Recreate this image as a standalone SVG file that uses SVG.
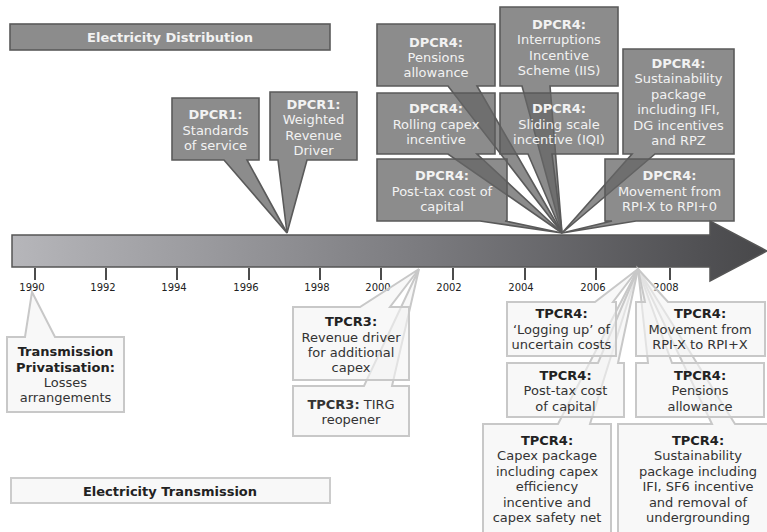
<svg xmlns="http://www.w3.org/2000/svg" width="767" height="532" viewBox="0 0 767 532">
<defs>
<linearGradient id="barg" gradientUnits="userSpaceOnUse" x1="12" y1="0" x2="767" y2="0">
<stop offset="0" stop-color="#b6b6ba"/>
<stop offset="0.55" stop-color="#7a7a7e"/>
<stop offset="0.92" stop-color="#505053"/>
<stop offset="1" stop-color="#48484a"/>
</linearGradient>
<style>
text{font-family:"DejaVu Sans","Verdana",sans-serif;font-size:13px;text-anchor:middle}
.b{font-weight:bold}
.dk path{fill:#666;fill-opacity:0.75;stroke:#5a5a5a;stroke-width:1.6;stroke-linejoin:miter}
.dk text{fill:#f2f2f2}
.lt path{fill:#f3f3f3;fill-opacity:0.6;stroke:#c8c8c8;stroke-width:2}
.lt text{fill:#333}
.lt text.b{fill:#222}
.tick{stroke:#111;stroke-width:1.5}
.yr{font-size:10px;fill:#222}
</style>
</defs>
<rect width="767" height="532" fill="#fff"/>

<g id="title-distribution">
<rect x="10" y="24" width="320" height="26" fill="#8c8c8c" stroke="#5a5a5a" stroke-width="1.6"/>
<text x="170" y="41.5" class="b" fill="#f2f2f2">Electricity Distribution</text>
</g>
<g id="title-transmission">
<rect x="11" y="478" width="319" height="25" fill="#f8f8f8" stroke="#cccccc" stroke-width="2"/>
<text x="170" y="495.5" class="b" fill="#222">Electricity Transmission</text>
</g>

<g id="timeline">
<path d="M12,235 H710 V221 L767,251 L710,281 V267 H12 Z" fill="url(#barg)" stroke="#555" stroke-width="1.5"/>
<g id="ticks">
<line class="tick" x1="35" y1="268" x2="35" y2="280"/>
<line class="tick" x1="106" y1="268" x2="106" y2="280"/>
<line class="tick" x1="177" y1="268" x2="177" y2="280"/>
<line class="tick" x1="249" y1="268" x2="249" y2="280"/>
<line class="tick" x1="320" y1="268" x2="320" y2="280"/>
<line class="tick" x1="381" y1="268" x2="381" y2="280"/>
<line class="tick" x1="453" y1="268" x2="453" y2="280"/>
<line class="tick" x1="525" y1="268" x2="525" y2="280"/>
<line class="tick" x1="596" y1="268" x2="596" y2="280"/>
<line class="tick" x1="670" y1="268" x2="670" y2="280"/>
</g>
<g id="years">
<text class="yr" x="32" y="291">1990</text>
<text class="yr" x="103" y="291">1992</text>
<text class="yr" x="174" y="291">1994</text>
<text class="yr" x="246" y="291">1996</text>
<text class="yr" x="317" y="291">1998</text>
<text class="yr" x="378" y="291">2000</text>
<text class="yr" x="449" y="291">2002</text>
<text class="yr" x="521" y="291">2004</text>
<text class="yr" x="593" y="291">2006</text>
<text class="yr" x="666" y="291">2008</text>
</g>
</g>

<g id="distribution-callouts" class="dk">
<g id="dpcr1-standards">
<path d="M172,98 H259 V160 H247 L287,233 L224,160 H172 Z"/>
<text x="215.5" y="119" class="b">DPCR1:</text>
<text x="215.5" y="134.5">Standards</text>
<text x="215.5" y="150">of service</text>
</g>
<g id="dpcr1-weighted">
<path d="M270,92 H357 V160 H307 L287,233 L278,160 H270 Z"/>
<text x="313.5" y="108.5" class="b">DPCR1:</text>
<text x="313.5" y="124">Weighted</text>
<text x="313.5" y="139.5">Revenue</text>
<text x="313.5" y="155">Driver</text>
</g>
<g id="dpcr4-pensions">
<path d="M377,24 H495 V86 H477 L562,233 L448,86 H377 Z"/>
<text x="436" y="47" class="b">DPCR4:</text>
<text x="436" y="61.5">Pensions</text>
<text x="436" y="76.5">allowance</text>
</g>
<g id="dpcr4-iis">
<path d="M500,7 H618 V86 H550 L562,233 L522,86 H500 Z"/>
<text x="559" y="28.5" class="b">DPCR4:</text>
<text x="559" y="44">Interruptions</text>
<text x="559" y="59.5">Incentive</text>
<text x="559" y="75">Scheme (IIS)</text>
</g>
<g id="dpcr4-sustainability">
<path d="M623,49 H734 V154 H655 L562,233 L632,154 H623 Z"/>
<text x="678.5" y="67.5" class="b">DPCR4:</text>
<text x="678.5" y="83">Sustainability</text>
<text x="678.5" y="98.5">package</text>
<text x="678.5" y="114">including IFI,</text>
<text x="678.5" y="129.5">DG incentives</text>
<text x="678.5" y="145">and RPZ</text>
</g>
<g id="dpcr4-rolling">
<path d="M377,93 H495 V154 H477 L562,233 L448,154 H377 Z"/>
<text x="436" y="112.5" class="b">DPCR4:</text>
<text x="436" y="128.5">Rolling capex</text>
<text x="436" y="143.5">incentive</text>
</g>
<g id="dpcr4-sliding">
<path d="M500,93 H618 V154 H552 L562,233 L528,154 H500 Z"/>
<text x="559" y="112.5" class="b">DPCR4:</text>
<text x="559" y="128.5">Sliding scale</text>
<text x="559" y="143.5">incentive (IQI)</text>
</g>
<g id="dpcr4-posttax">
<path d="M377,159 H507 V221 H505 L562,233 L480,221 H377 Z"/>
<text x="442" y="179.5" class="b">DPCR4:</text>
<text x="442" y="195.5">Post-tax cost of</text>
<text x="442" y="210.5">capital</text>
</g>
<g id="dpcr4-movement">
<path d="M605,159 H734 V221 H636 L562,233 L612,221 H605 Z"/>
<text x="669.5" y="179.5" class="b">DPCR4:</text>
<text x="669.5" y="195.5">Movement from</text>
<text x="669.5" y="210.5">RPI-X to RPI+0</text>
</g>
</g>

<g id="transmission-callouts" class="lt">
<g id="privatisation">
<path d="M7,337 H25 L32,292 L55,337 H124 V412 H7 Z"/>
<text x="65.5" y="355.5" class="b">Transmission</text>
<text x="65.5" y="371.5" class="b">Privatisation:</text>
<text x="65.5" y="386.5">Losses</text>
<text x="65.5" y="401.5">arrangements</text>
</g>
<g id="tpcr3-tirg">
<path d="M293,386 H364 L419,269 L392,386 H409 V436 H293 Z"/>
<text x="351" y="408.5"><tspan class="b">TPCR3:</tspan> TIRG</text>
<text x="351" y="423.5">reopener</text>
</g>
<g id="tpcr3-revenue">
<path d="M293,307 H360 L419,269 L390,307 H409 V380 H293 Z"/>
<text x="351" y="325.5" class="b">TPCR3:</text>
<text x="351" y="341.5">Revenue driver</text>
<text x="351" y="356.5">for additional</text>
<text x="351" y="371.5">capex</text>
</g>
<g id="tpcr4-capex">
<path d="M483,424 H558 L638,269 L590,424 H611 V545 H483 Z"/>
<text x="547" y="444.5" class="b">TPCR4:</text>
<text x="547" y="460">Capex package</text>
<text x="547" y="475.5">including capex</text>
<text x="547" y="491">efficiency</text>
<text x="547" y="506.5">incentive and</text>
<text x="547" y="522">capex safety net</text>
</g>
<g id="tpcr4-sustainability">
<path d="M618,424 H712 L638,269 L735,424 H775 V545 H618 Z"/>
<text x="698" y="444.5" class="b">TPCR4:</text>
<text x="698" y="460">Sustainability</text>
<text x="698" y="475.5">package including</text>
<text x="698" y="491">IFI, SF6 incentive</text>
<text x="698" y="506.5">and removal of</text>
<text x="698" y="522">undergrounding</text>
</g>
<g id="tpcr4-posttax">
<path d="M507,363 H598 L638,269 L618,363 H624 V417 H507 Z"/>
<text x="565.5" y="379.5" class="b">TPCR4:</text>
<text x="565.5" y="395">Post-tax cost</text>
<text x="565.5" y="410.5">of capital</text>
</g>
<g id="tpcr4-pensions">
<path d="M636,363 H648 L638,269 L672,363 H764 V417 H636 Z"/>
<text x="700" y="379.5" class="b">TPCR4:</text>
<text x="700" y="395">Pensions</text>
<text x="700" y="410.5">allowance</text>
</g>
<g id="tpcr4-logging">
<path d="M507,302 H595 L638,269 L613,302 H616 V356 H507 Z"/>
<text x="561.5" y="317.5" class="b">TPCR4:</text>
<text x="561.5" y="333.5">‘Logging up’ of</text>
<text x="561.5" y="349">uncertain costs</text>
</g>
<g id="tpcr4-movement">
<path d="M636,302 H645 L638,269 L668,302 H765 V356 H636 Z"/>
<text x="700" y="317.5" class="b">TPCR4:</text>
<text x="700" y="333.5">Movement from</text>
<text x="700" y="349">RPI-X to RPI+X</text>
</g>
</g>
</svg>
